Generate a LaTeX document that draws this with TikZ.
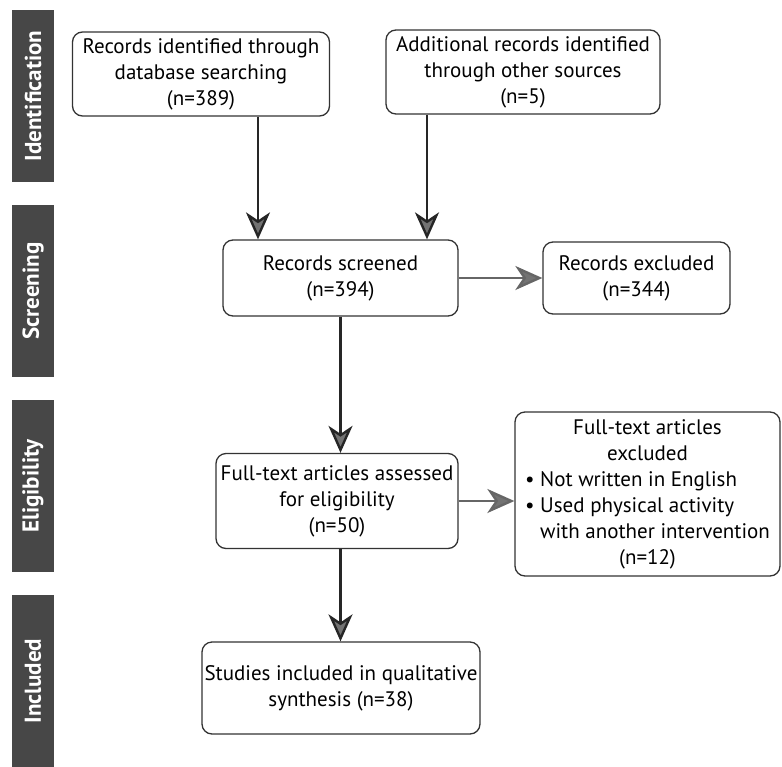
\documentclass[tikz,border=0pt]{standalone}
\usepackage{fontspec}
\setmainfont{PT Sans}
\usetikzlibrary{arrows.meta}

\begin{document}
\begin{tikzpicture}[x=1pt,y=-1pt,
      every node/.style={inner sep=2pt,font=\fontsize{21}{26}\selectfont},
      box/.style={draw=black!80,line width=1.3pt,rounded corners=10pt,align=center},
      bar/.style={fill=black!72,text=white,rotate=90,minimum width=172pt,
        minimum height=42pt,font=\fontsize{23}{26}\selectfont\bfseries},
      >={Stealth[length=27pt,width=24pt,inset=8pt,fill=black!55]}]
    \useasboundingbox(0,0)rectangle(782,766);
    % stage bars
    \node[bar](idf)at(33,96){Identification};
    \node[bar](scr)at(33,291){Screening};
    \node[bar](elg)at(33,486){Eligibility};
    \node[bar](inc)at(33,681){Included};
    % boxes
    \node[box,minimum width=257pt,minimum height=84pt](db)at(201,74)
      {Records identified through\\database searching\\(n=389)};
    \node[box,minimum width=274pt,minimum height=84pt](oth)at(523,72)
      {Additional records identified\\through other sources\\(n=5)};
    \node[box,minimum width=235pt,minimum height=76pt](scrd)at(340.5,278)
      {Records screened\\(n=394)};
    \node[box,minimum width=187pt,minimum height=72pt](excl)at(636.5,278)
      {Records excluded\\(n=344)};
    \node[box,minimum width=242pt,minimum height=95pt](full)at(337,501)
      {Full-text articles assessed\\for eligibility\\(n=50)};
    \node[box,minimum width=265pt,minimum height=164pt](fexc)at(647.5,494)
      {\begin{tabular}{@{}l@{}}
        \multicolumn{1}{@{}c@{}}{Full-text articles}\\
        \multicolumn{1}{@{}c@{}}{excluded}\\
        \textbullet\ Not written in English\\
        \textbullet\ Used physical activity\\
        \phantom{\textbullet\ }with another intervention\\
        \multicolumn{1}{@{}c@{}}{(n=12)}
      \end{tabular}};
    \node[box,minimum width=278pt,minimum height=92pt](qual)at(341,688)
      {Studies included in qualitative\\synthesis (n=38)};
    % arrows
    \coordinate(a1)at(258,0);
    \coordinate(a2)at(427,0);
    \begin{scope}[line width=2.4pt,draw=black!85]
      \draw[->](a1|-db.south)--(a1|-scrd.north);
      \draw[->](a2|-oth.south)--(a2|-scrd.north);
      \draw[->,draw=black!60](scrd.east)--(excl.west);
      \draw[->](scrd.south)--(scrd.south|-full.north);
      \draw[->,draw=black!60](full.east)--(full.east-|fexc.west);
      \draw[->](scrd.south|-full.south)--(scrd.south|-qual.north);
    \end{scope}
\end{tikzpicture}
\end{document}
